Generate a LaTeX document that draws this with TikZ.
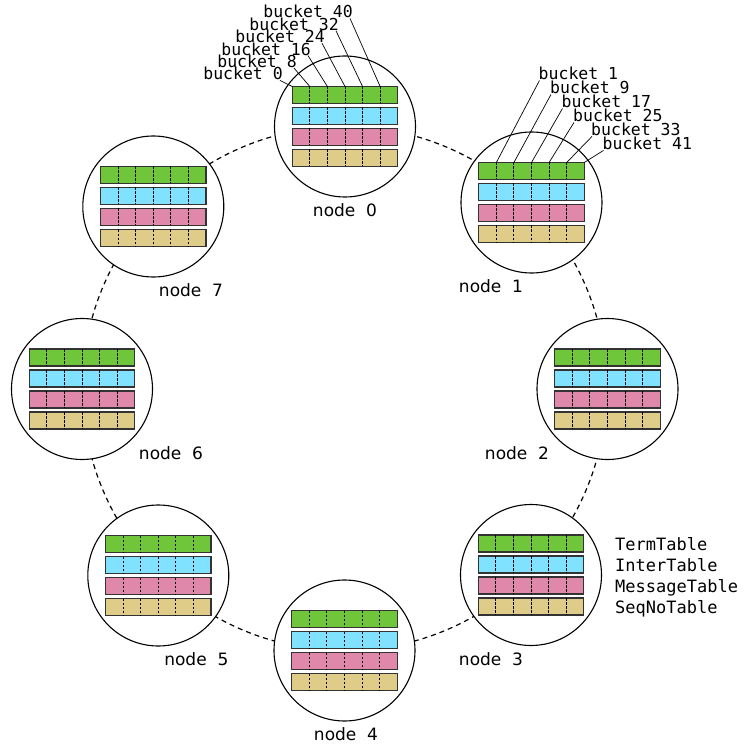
\documentclass[tikz,border=0pt]{standalone}
\usepackage{fontspec}
\setmainfont{DejaVu Sans}
\setmonofont{DejaVu Sans Mono}
\usetikzlibrary{calc}
\definecolor{termgreen}{HTML}{70C63A}
\definecolor{intercyan}{HTML}{80E2FF}
\definecolor{msgpink}{HTML}{E088AA}
\definecolor{seqtan}{HTML}{DFCC88}
\tikzset{%
    server/.style={circle,draw,line width=1.1pt,fill=white,minimum size=141pt,inner sep=0pt},
    tablebox/.style={inner sep=0pt,outer sep=0pt,shape=rectangle,draw=black!80,line width=1.2pt,minimum width=105.5pt,minimum height=17pt},
    cell/.style={dash pattern=on 2.5pt off 1.5pt,line width=0.9pt},
    ring/.style={dash pattern=on 5pt off 4pt,line width=1.2pt},
    serverlabel/.style={font=\fontsize{17}{20}\selectfont,inner sep=0pt,anchor=base},
    bucketlabel/.style={font=\ttfamily\fontsize{16.5}{18}\selectfont,inner sep=0pt},
    legendlabel/.style={font=\ttfamily\fontsize{17}{20}\selectfont,inner sep=0pt,anchor=base west},
    leader/.style={line width=0.7pt},
}
\begin{document}
\begin{tikzpicture}[x=1pt,y=-1pt]
    \useasboundingbox (0,0) rectangle (753,749);
    \coordinate (ring) at (344.5,388.5);
    \draw[ring] (ring) circle (262pt);

    % servers with their four tables
    \foreach \name/\px/\py in {n0/345/126.5, n1/531.5/202.5, n2/607.5/389, n3/531/575,
                               n4/344.5/650.5, n5/158.3/575.5, n6/82/389, n7/153.3/206.5} {
        \node[server] (\name) at (\px,\py) {};
        \foreach \r/\col [count=\i] in {-31.5/termgreen, -10.5/intercyan, 10.5/msgpink, 31.5/seqtan} {
            \node[tablebox,fill=\col] (\name t\i) at ($(\name)+(0,\r)$) {};
            \foreach \k in {1,...,5}
                \draw[cell] ($(\name t\i.north west)!\k/6!(\name t\i.north east)$) -- ($(\name t\i.south west)!\k/6!(\name t\i.south east)$);
        }
    }

    \node[serverlabel] (l0) at ($(n0)+(0,90)$) {node\ \ 0};
    \node[serverlabel] (l1) at ($(n1)+(-40.5,90)$) {node\ \ 1};
    \node[serverlabel] (l2) at ($(n2)+(-90.5,70)$) {node\ \ 2};
    \node[serverlabel] (l3) at ($(n3)+(-40,90)$) {node\ \ 3};
    \node[serverlabel] (l4) at ($(n4)+(1.5,90)$) {node\ \ 4};
    \node[serverlabel] (l5) at ($(n5)+(38,90)$) {node\ \ 5};
    \node[serverlabel] (l6) at ($(n6)+(89,70)$) {node\ \ 6};
    \node[serverlabel] (l7) at ($(n7)+(37.7,90)$) {node\ \ 7};

    % buckets of node 0
    \foreach \b [count=\k from 0] in {0,8,16,24,32,40} {
        \node[bucketlabel,anchor=base east] (b\b) at (283+14*\k,80-12.4*\k) {bucket \b};
        \draw[leader] ([xshift=-3pt]b\b.south east) -- ($(n0t1.north west)!\k/6!(n0t1.north east)$);
    }

    % buckets of node 1
    \foreach \b/\bx/\by [count=\k] in {1/538.5/80, 9/550/94, 17/561.5/108, 25/573/122, 33/591/136, 41/602.5/150} {
        \node[bucketlabel,anchor=base west] (b\b) at (\bx,\by) {bucket \b};
        \draw[leader] ([xshift=1pt]b\b.south west) -- ($(n1t1.north west)!\k/6!(n1t1.north east)$);
    }

    \node[legendlabel] (lg1) at (615,550) {TermTable};
    \node[legendlabel] (lg2) at (615,571.3) {InterTable};
    \node[legendlabel] (lg3) at (615,592.6) {MessageTable};
    \node[legendlabel] (lg4) at (615,613.5) {SeqNoTable};
\end{tikzpicture}
\end{document}
